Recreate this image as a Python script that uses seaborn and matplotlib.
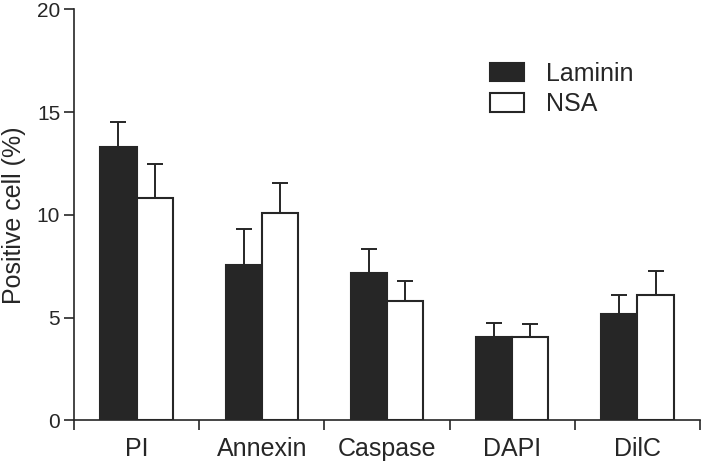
import numpy as np
import pandas as pd
import seaborn as sns
import matplotlib.pyplot as plt

# valores
categories = ["PI", "Annexin", "Caspase", "DAPI", "DilC"]
groups = ["Laminin", "NSA"]
laminin_mean = [13.3, 7.55, 7.15, 4.07, 5.17]
laminin_err = [1.22, 1.74, 1.2, 0.65, 0.94]
nsa_mean = [10.82, 10.07, 5.82, 4.07, 6.1]
nsa_err = [1.66, 1.49, 0.96, 0.63, 1.15]

df = pd.DataFrame({
    "cat": categories * 2,
    "group": [groups[0]] * 5 + [groups[1]] * 5,
    "value": laminin_mean + nsa_mean,
    "err": laminin_err + nsa_err,
})

sns.set_style("ticks")
plt.rcParams["font.family"] = ["Liberation Sans", "DejaVu Sans"]

fig = plt.figure(figsize=(7.03, 4.62), dpi=100)
ax = fig.add_axes([0.1053, 0.0903, 0.8904, 0.8896])

dark = "#262626"
sns.barplot(df, x="cat", y="value", hue="group", palette=[dark, "white"],
            width=0.58, edgecolor=dark, linewidth=1.5, errorbar=None,
            ax=ax, zorder=2)

# barras de error (solo hacia arriba)
bars = [p for p in ax.patches if p.get_height() > 0][:10]
xs = [p.get_x() + p.get_width() / 2 for p in bars]
ys = [p.get_height() for p in bars]
errs = df["err"].tolist()
ax.errorbar(xs, ys, yerr=[np.zeros(len(errs)), errs], fmt="none",
            ecolor=dark, elinewidth=1.4, capsize=5.5, capthick=1.4, zorder=1)

ax.set_ylim(0, 20)
ax.set_xlim(-0.5, 4.5)
ax.set_yticks([0, 5, 10, 15, 20])
ax.set_xticks(np.arange(-0.5, 5, 1))
ax.set_xticklabels([])
ax.set_xticks(np.arange(5), categories, minor=True)
ax.tick_params(axis="x", which="minor", length=0, labelsize=18, pad=12)
ax.tick_params(axis="x", which="major", length=7, width=1.2, direction="out", color=dark)
ax.tick_params(axis="y", length=7, width=1.2, labelsize=15, color=dark, labelcolor=dark, pad=3)
ax.tick_params(axis="x", which="minor", labelcolor=dark)
for s in ["left", "bottom"]:
    ax.spines[s].set_linewidth(1.2)
    ax.spines[s].set_color(dark)
sns.despine(ax=ax)

ax.set_xlabel("")
ax.set_ylabel("Positive cell (%)", fontsize=18, color=dark, labelpad=8)

leg = ax.legend(loc="upper left", bbox_to_anchor=(0.665, 0.872), frameon=False,
                fontsize=18, handlelength=1.36, handleheight=0.76,
                handletextpad=0.85, labelspacing=0.25, borderpad=0, borderaxespad=0)
for t in leg.get_texts():
    t.set_color(dark)

fig.savefig("out.png", dpi=100)
